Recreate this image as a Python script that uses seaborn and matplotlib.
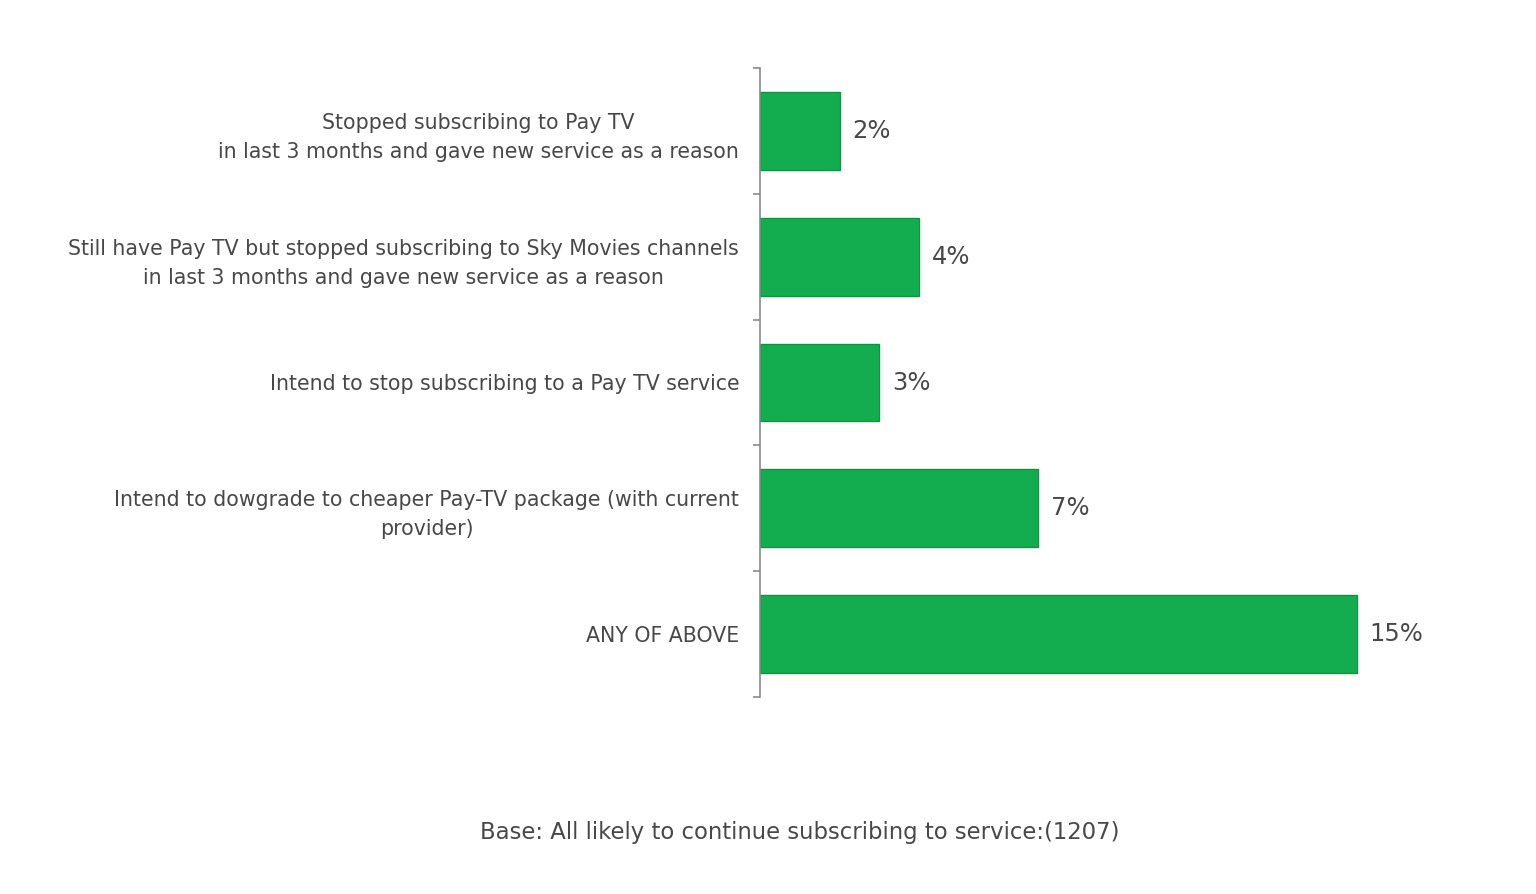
import matplotlib
matplotlib.use("Agg")
import matplotlib.pyplot as plt
import seaborn as sns
import pandas as pd

# data
categories = [
    "Stopped subscribing to Pay TV\nin last 3 months and gave new service as a reason",
    "Still have Pay TV but stopped subscribing to Sky Movies channels\nin last 3 months and gave new service as a reason",
    "Intend to stop subscribing to a Pay TV service",
    "Intend to dowgrade to cheaper Pay-TV package (with current\nprovider)",
    "ANY OF ABOVE",
]
values = [2, 4, 3, 7, 15]
value_labels = ["2%", "4%", "3%", "7%", "15%"]
footnote = "Base: All likely to continue subscribing to service:(1207)"

df = pd.DataFrame({"category": categories, "value": values})

sns.set_style("white")
plt.rcParams["font.family"] = ["DejaVu Sans"]
text_col = "#484848"

fig = plt.figure(figsize=(15.36, 8.94), dpi=100)
ax = fig.add_axes([760 / 1536, (894 - 697) / 894, 700 / 1536, 629 / 894])

sns.barplot(data=df, x="value", y="category", orient="h", color="#13ad4f",
            edgecolor="#0e9443", linewidth=1, width=0.62, saturation=1, ax=ax)

ax.bar_label(ax.containers[0], labels=value_labels, padding=9,
             fontsize=17.5, color=text_col)

ax.set_xlim(0, 17.6)
ax.set_ylim(4.5, -0.5)
ax.set_xlabel("")
ax.set_ylabel("")
ax.set_xticks([])

# labels at bar centres, small tick marks at the category boundaries
ax.set_yticks(range(len(categories)))
ax.set_yticklabels(categories, fontsize=14.8, color=text_col,
                   multialignment="center", linespacing=1.55)
ax.tick_params(axis="y", which="major", length=0, pad=15)
ax.set_yticks([i - 0.5 for i in range(len(categories) + 1)], minor=True)
ax.tick_params(axis="y", which="minor", length=5, width=1.2,
               color="#8a8a8a", left=True)

for side in ["top", "right", "bottom"]:
    ax.spines[side].set_visible(False)
ax.spines["left"].set_color("#8a8a8a")
ax.spines["left"].set_linewidth(1.2)

fig.text(800 / 1536, 1 - 832 / 894, footnote, ha="center", va="center",
         fontsize=16.4, color=text_col)

fig.savefig("out.png", dpi=100, facecolor="white")
